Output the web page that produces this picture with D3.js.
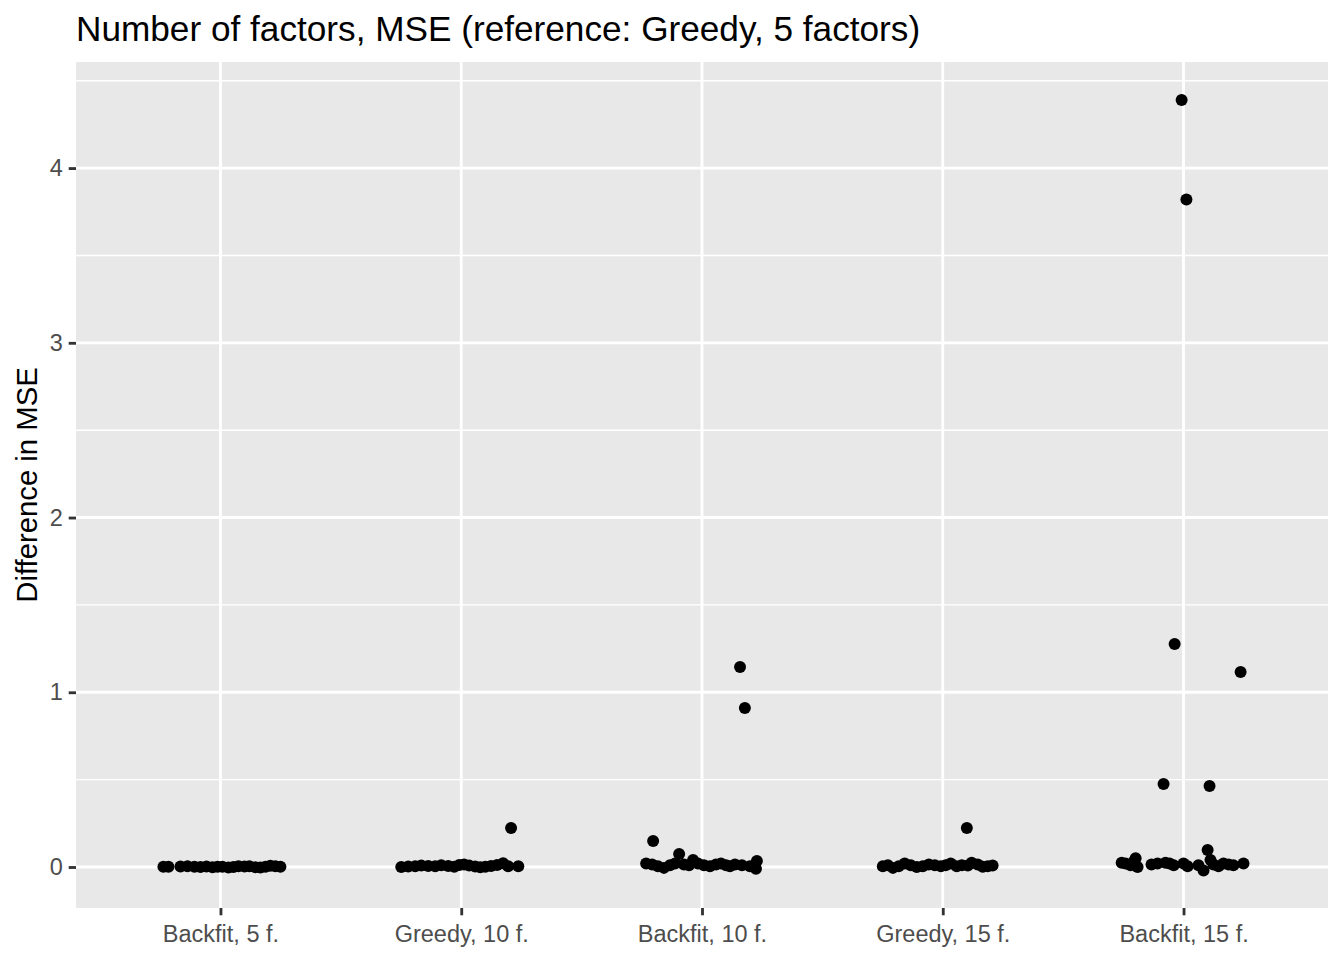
<!DOCTYPE html>
<html>
<head>
<meta charset="utf-8">
<script src="https://cdn.jsdelivr.net/npm/d3@7/dist/d3.min.js"></script>
<style>
  html, body { margin: 0; padding: 0; background: #ffffff; }
  svg { display: block; font-family: "Liberation Sans", Arial, Helvetica, sans-serif; }
</style>
</head>
<body>
<svg id="chart" width="1344" height="960"></svg>
<script>
// ---- Data ----
const categories = ["Backfit, 5 f.", "Greedy, 10 f.", "Backfit, 10 f.", "Greedy, 15 f.", "Backfit, 15 f."];
const yTicks = [0, 1, 2, 3, 4];

// jitter offsets (fraction of category spacing) and values, per category
const backfit5Jitter = [-0.237, -0.216, -0.166, -0.137, -0.108, -0.083, -0.058, -0.033, -0.012, 0.008, 0.033, 0.054, 0.075, 0.100, 0.120, 0.145, 0.166, 0.187, 0.207, 0.228, 0.249];
const backfit5Values = [0.002, 0.001, 0.003, 0.004, 0.002, 0.000, 0.003, -0.002, 0.001, 0.002, -0.003, 0.000, 0.004, 0.003, 0.005, -0.002, -0.003, 0.001, 0.007, 0.004, 0.002];

const greedy10Jitter = [-0.249, -0.220, -0.191, -0.166, -0.137, -0.108, -0.083, -0.054, -0.029, -0.008, 0.012, 0.033, 0.058, 0.079, 0.100, 0.124, 0.149, 0.174, 0.195, 0.207, 0.237];
const greedy10Values = [0.000, 0.003, 0.005, 0.008, 0.006, 0.004, 0.010, 0.006, 0.002, 0.012, 0.015, 0.008, 0.003, -0.002, 0.001, 0.006, 0.012, 0.022, 0.005, 0.223, 0.004];

const backfit10Jitter = [-0.232, -0.207, -0.203, -0.183, -0.158, -0.133, -0.112, -0.095, -0.075, -0.054, -0.037, -0.017, 0.008, 0.033, 0.058, 0.079, 0.100, 0.116, 0.137, 0.158, 0.178, 0.166, 0.199, 0.224, 0.228];
const backfit10Values = [0.020, 0.015, 0.149, 0.005, -0.005, 0.010, 0.020, 0.075, 0.015, 0.010, 0.040, 0.020, 0.010, 0.005, 0.015, 0.020, 0.010, 0.005, 0.015, 1.144, 0.910, 0.010, 0.005, -0.010, 0.035];

const greedy15Jitter = [-0.249, -0.228, -0.207, -0.183, -0.158, -0.133, -0.108, -0.083, -0.058, -0.033, -0.008, 0.012, 0.033, 0.058, 0.079, 0.100, 0.104, 0.120, 0.145, 0.166, 0.187, 0.207];
const greedy15Values = [0.005, 0.010, -0.005, 0.005, 0.020, 0.010, 0.000, 0.005, 0.015, 0.010, 0.005, 0.010, 0.020, 0.005, 0.010, 0.223, 0.008, 0.025, 0.015, 0.002, 0.005, 0.008];

const backfit15Jitter = [-0.257, -0.241, -0.220, -0.207, -0.191, -0.199, -0.133, -0.108, -0.083, -0.075, -0.058, -0.037, -0.041, -0.008, 0.012, 0.000, 0.017, 0.062, 0.083, 0.100, 0.108, 0.112, 0.124, 0.145, 0.166, 0.187, 0.207, 0.237, 0.249];
const backfit15Values = [0.025, 0.020, 0.010, 0.030, 0.000, 0.050, 0.015, 0.020, 0.475, 0.025, 0.020, 1.276, 0.010, 4.390, 3.820, 0.020, 0.005, 0.010, -0.020, 0.097, 0.463, 0.040, 0.015, 0.005, 0.020, 0.015, 0.010, 1.116, 0.020];

const seriesJitter = [backfit5Jitter, greedy10Jitter, backfit10Jitter, greedy15Jitter, backfit15Jitter];
const seriesValues = [backfit5Values, greedy10Values, backfit10Values, greedy15Values, backfit15Values];

// ---- Layout ----
const svg = d3.select("#chart");
const panel = { left: 76, right: 1328, top: 62, bottom: 908 };

const x = d3.scalePoint().domain(categories).range([panel.left, panel.right]).padding(0.6);
const y = d3.scaleLinear().domain([-0.2346, 4.607]).range([panel.bottom, panel.top]);

// panel background
svg.append("rect")
  .attr("x", panel.left).attr("y", panel.top)
  .attr("width", panel.right - panel.left).attr("height", panel.bottom - panel.top)
  .attr("fill", "#e8e8e8");

// minor gridlines
const minor = [0.5, 1.5, 2.5, 3.5, 4.5];
svg.append("g").selectAll("line").data(minor).join("line")
  .attr("x1", panel.left).attr("x2", panel.right)
  .attr("y1", d => y(d)).attr("y2", d => y(d))
  .attr("stroke", "#ffffff").attr("stroke-width", 1.42);

// major gridlines
svg.append("g").selectAll("line").data(yTicks).join("line")
  .attr("x1", panel.left).attr("x2", panel.right)
  .attr("y1", d => y(d)).attr("y2", d => y(d))
  .attr("stroke", "#ffffff").attr("stroke-width", 2.84);
svg.append("g").selectAll("line").data(categories).join("line")
  .attr("y1", panel.top).attr("y2", panel.bottom)
  .attr("x1", d => x(d)).attr("x2", d => x(d))
  .attr("stroke", "#ffffff").attr("stroke-width", 2.84);

// points
const step = x.step();
const points = [];
categories.forEach((c, i) => {
  seriesValues[i].forEach((v, j) => points.push({ c, v, jit: seriesJitter[i][j] }));
});
svg.append("g").selectAll("circle").data(points).join("circle")
  .attr("cx", d => x(d.c) + d.jit * step)
  .attr("cy", d => y(d.v))
  .attr("r", 6)
  .attr("fill", "#000000");

// y axis
const yAxis = d3.axisLeft(y).tickValues(yTicks).tickSize(7.3).tickPadding(5.9).tickFormat(d3.format("d"));
const gy = svg.append("g").attr("transform", `translate(${panel.left},0)`).call(yAxis);
gy.select(".domain").remove();
gy.selectAll(".tick line").attr("stroke", "#333333").attr("stroke-width", 2.84);
gy.selectAll(".tick text").attr("fill", "#4d4d4d").attr("font-size", "23.5px")
  .attr("font-family", "'Liberation Sans', Arial, sans-serif");

// x axis
const xAxis = d3.axisBottom(x).tickSize(7.3).tickPadding(10);
const gx = svg.append("g").attr("transform", `translate(0,${panel.bottom})`).call(xAxis);
gx.select(".domain").remove();
gx.selectAll(".tick line").attr("stroke", "#333333").attr("stroke-width", 2.84);
gx.selectAll(".tick text").attr("fill", "#4d4d4d").attr("font-size", "23.5px")
  .attr("font-family", "'Liberation Sans', Arial, sans-serif");

// title
svg.append("text")
  .attr("x", panel.left).attr("y", 41)
  .attr("font-size", "35.2px").attr("fill", "#000000")
  .text("Number of factors, MSE (reference: Greedy, 5 factors)");

// y axis title
svg.append("text")
  .attr("transform", `translate(37,${(panel.top + panel.bottom) / 2}) rotate(-90)`)
  .attr("text-anchor", "middle")
  .attr("font-size", "29.3px").attr("fill", "#000000")
  .text("Difference in MSE");
</script>
</body>
</html>
